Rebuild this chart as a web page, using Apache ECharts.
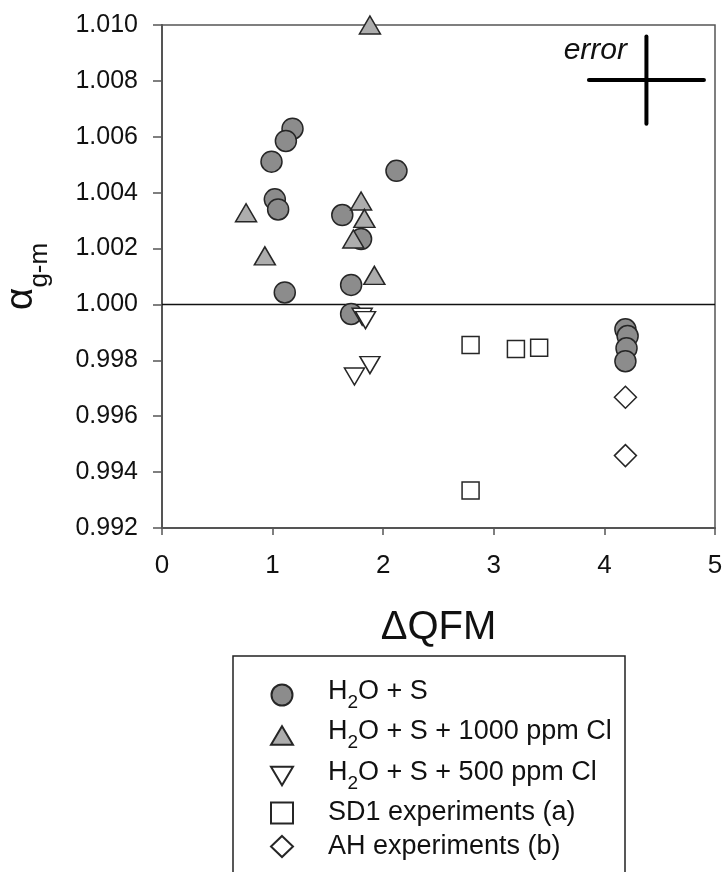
<!DOCTYPE html>
<html>
<head>
<meta charset="utf-8">
<script src="https://cdn.jsdelivr.net/npm/echarts@6/dist/echarts.min.js"></script>
<style>
html,body{margin:0;padding:0;background:#fff;}
#chart{width:722px;height:872px;}
</style>
</head>
<body>
<div id="chart"></div>
<script>
// ---- data ----
const xTicks = [0, 1, 2, 3, 4, 5];
const yTicks = [0.992, 0.994, 0.996, 0.998, 1.000, 1.002, 1.004, 1.006, 1.008, 1.010];

const seriesNames = ['H2O + S', 'H2O + S + 1000 ppm Cl', 'H2O + S + 500 ppm Cl', 'SD1 experiments (a)', 'AH experiments (b)'];

const circlesX = [1.18, 1.12, 0.99, 1.02, 1.05, 2.12, 1.63, 1.80, 1.71, 1.11, 1.71, 4.19, 4.21, 4.20, 4.19];
const circlesY = [1.00629, 1.00585, 1.00511, 1.00376, 1.00340, 1.00478, 1.00320, 1.00234, 1.00070, 1.00043, 0.99966, 0.99911, 0.99887, 0.99843, 0.99797];

const upTriX = [1.88, 0.76, 0.93, 1.80, 1.83, 1.73, 1.92];
const upTriY = [1.0100, 1.00328, 1.00174, 1.00370, 1.00308, 1.00234, 1.00104];

const downTriX = [1.81, 1.84, 1.74, 1.88];
const downTriY = [0.99956, 0.99944, 0.99742, 0.99783];

const squaresX = [2.79, 3.20, 3.41, 2.79];
const squaresY = [0.99855, 0.99841, 0.99845, 0.99334];

const diamondsX = [4.19, 4.19];
const diamondsY = [0.99668, 0.99459];

const refLineY = 1.000;
const errorCenter = [4.38, 1.00803];
const errorHalfX = 0.52;
const errorHalfY = 0.00156;

// ---- build ----
const zip = (xs, ys) => xs.map((x, i) => [x, ys[i]]);
const FONT = '"Liberation Sans", Arial, Helvetica, sans-serif';

const legendRich = {
  h: { fontSize: 27, fontFamily: FONT, color: '#111', verticalAlign: 'bottom', padding: [0, 0, 7, 30] },
  n: { fontSize: 27, fontFamily: FONT, color: '#111', verticalAlign: 'bottom', padding: [0, 0, 7, 0] },
  s: { fontSize: 19, fontFamily: FONT, color: '#111', verticalAlign: 'bottom' },
  p: { fontSize: 27, fontFamily: FONT, color: '#111', padding: [0, 0, 0, 30] }
};
function legendFmt(name) {
  if (name.indexOf('H2O') === 0) {
    return '{h|H}{s|2}{n|' + name.slice(2) + '}';
  }
  return '{p|' + name + '}';
}

const markerBorder = { borderColor: '#262626', borderWidth: 1.5 };

const chart = echarts.init(document.getElementById('chart'), null, { renderer: 'canvas' });
chart.setOption({
  backgroundColor: '#fff',
  animation: false,
  grid: { left: 162, right: 7, top: 25, bottom: 344, containLabel: false, outerBoundsMode: 'none', show: true, borderColor: '#555', borderWidth: 1.5, backgroundColor: 'transparent' },
  xAxis: {
    type: 'value', min: xTicks[0], max: xTicks[xTicks.length - 1], interval: 1,
    name: 'ΔQFM', nameLocation: 'middle', nameGap: 80,
    nameTextStyle: { fontSize: 40, fontFamily: FONT, color: '#111', lineHeight: 40 },
    axisLine: { show: true, onZero: false, lineStyle: { color: '#555', width: 2 } },
    axisTick: { show: true, length: 7, lineStyle: { color: '#555', width: 1.5 } },
    axisLabel: { fontSize: 26, fontFamily: FONT, color: '#111', margin: 25 },
    splitLine: { show: false }
  },
  yAxis: {
    type: 'value', min: yTicks[0], max: yTicks[yTicks.length - 1], interval: 0.002,
    name: '{a|α}{b|g-m}', nameLocation: 'middle', nameRotate: 90, nameGap: 109,
    nameTextStyle: {
      rich: {
        a: { fontSize: 39, fontFamily: FONT, color: '#111', verticalAlign: 'bottom', padding: [0, 0, 12, 0] },
        b: { fontSize: 26, fontFamily: FONT, color: '#111', verticalAlign: 'bottom' }
      }
    },
    axisLine: { show: true, onZero: false, lineStyle: { color: '#555', width: 2 } },
    axisTick: { show: true, length: 9, lineStyle: { color: '#555', width: 1.5 } },
    axisLabel: { fontSize: 25, fontFamily: FONT, color: '#111', margin: 24, formatter: v => v.toFixed(3) },
    splitLine: { show: false }
  },
  legend: {
    data: [
      { name: seriesNames[0], icon: 'circle' },
      { name: seriesNames[1], icon: 'path://M5,0 L10,8.5 L0,8.5 Z' },
      { name: seriesNames[2], icon: 'path://M0,0 L10,0 L5,8.5 Z' },
      { name: seriesNames[3], icon: 'rect' },
      { name: seriesNames[4], icon: 'diamond' }
    ],
    orient: 'vertical', left: 265, top: 673,
    itemWidth: 22, itemHeight: 21, itemGap: 6.5,
    formatter: legendFmt,
    textStyle: { fontSize: 27, fontFamily: FONT, color: '#111', rich: legendRich },
    selectedMode: false
  },
  graphic: [
    { type: 'rect', shape: { x: 233, y: 656, width: 392, height: 260 }, style: { fill: 'none', stroke: '#222', lineWidth: 1.5 }, silent: true },
    { type: 'text', x: 627, y: 51, style: { text: 'error', font: 'italic 30px ' + FONT, fill: '#111', align: 'right', verticalAlign: 'middle', textAlign: 'right', textVerticalAlign: 'middle' }, silent: true }
  ],
  series: [
    {
      name: 'ref', type: 'line', data: [[xTicks[0], refLineY], [xTicks[xTicks.length - 1], refLineY]],
      symbol: 'none', lineStyle: { color: '#111', width: 1.5 }, z: 1, silent: true
    },
    {
      name: 'errH', type: 'line', data: [[errorCenter[0] - errorHalfX, errorCenter[1]], [errorCenter[0] + errorHalfX, errorCenter[1]]],
      symbol: 'none', lineStyle: { color: '#000', width: 4, cap: 'round' }, silent: true
    },
    {
      name: 'errV', type: 'line', data: [[errorCenter[0], errorCenter[1] - errorHalfY], [errorCenter[0], errorCenter[1] + errorHalfY]],
      symbol: 'none', lineStyle: { color: '#000', width: 4, cap: 'round' }, silent: true
    },
    {
      name: seriesNames[0], type: 'scatter', data: zip(circlesX, circlesY),
      symbol: 'circle', symbolSize: 21,
      itemStyle: Object.assign({ color: '#8c8c8c', opacity: 1 }, markerBorder)
    },
    {
      name: seriesNames[1], type: 'scatter', data: zip(upTriX, upTriY),
      symbol: 'triangle', symbolSize: [21, 18],
      itemStyle: Object.assign({ color: '#adadad', opacity: 1 }, markerBorder)
    },
    {
      name: seriesNames[2], type: 'scatter', data: zip(downTriX, downTriY),
      symbol: 'triangle', symbolRotate: 180, symbolSize: [20, 17],
      itemStyle: Object.assign({ color: '#ffffff', opacity: 1 }, markerBorder)
    },
    {
      name: seriesNames[3], type: 'scatter', data: zip(squaresX, squaresY),
      symbol: 'rect', symbolSize: 17,
      itemStyle: Object.assign({ color: '#ffffff', opacity: 1 }, markerBorder)
    },
    {
      name: seriesNames[4], type: 'scatter', data: zip(diamondsX, diamondsY),
      symbol: 'diamond', symbolSize: [22, 22],
      itemStyle: Object.assign({ color: '#ffffff', opacity: 1 }, markerBorder)
    }
  ]
});
</script>
</body>
</html>
